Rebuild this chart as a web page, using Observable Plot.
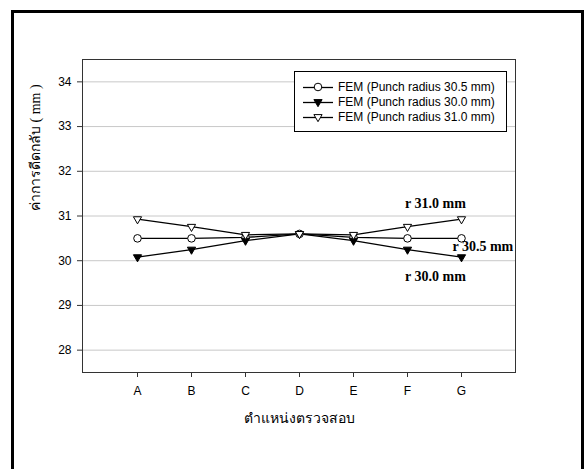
<!DOCTYPE html>
<html>
<head>
<meta charset="utf-8">
<script src="https://cdn.jsdelivr.net/npm/d3@7"></script>
<script src="https://cdn.jsdelivr.net/npm/@observablehq/plot@0.6"></script>
<style>
  html, body { margin: 0; padding: 0; background: #fff; width: 584px; height: 469px; overflow: hidden; }
  #outer { position: absolute; left: 11px; top: 10px; width: 573px; height: 520px; border: 3px solid #000; box-sizing: border-box; }
  #chart { position: absolute; left: 0; top: 0; }
  #legend { position: absolute; left: 294px; top: 71px; width: 213px; height: 61px; border: 1px solid #000; background: #fff; box-sizing: border-box; font-family: "Liberation Sans", Arial, sans-serif; font-size: 12px; color: #000; }
  .row { position: absolute; left: 0; height: 14px; display: flex; align-items: center; }
  .row svg { margin-left: 8px; }
  .row span { margin-left: 5px; white-space: nowrap; }
</style>
</head>
<body>
<div id="outer"></div>
<div id="chart"></div>
<div id="legend"></div>
<script>
// ---- data ----
const categories = ["A", "B", "C", "D", "E", "F", "G"];
const seriesNames = ["FEM (Punch radius 30.5 mm)", "FEM (Punch radius 30.0 mm)", "FEM (Punch radius 31.0 mm)"];
const r305 = [30.5, 30.5, 30.52, 30.6, 30.52, 30.5, 30.5];
const r300 = [30.08, 30.25, 30.45, 30.6, 30.45, 30.25, 30.08];
const r310 = [30.93, 30.76, 30.58, 30.6, 30.58, 30.76, 30.93];
const yTicks = [28, 29, 30, 31, 32, 33, 34];
const yDomain = [27.5, 34.5];
const xLabel = "ตำแหน่งตรวจสอบ";
const yLabel = "ค่าการดีดกลับ ( mm )";
const annotations = ["r 30.5 mm", "r 30.0 mm", "r 31.0 mm"];

// ---- build table ----
const seriesValues = [r305, r300, r310];
const rows = [];
seriesNames.forEach((s, i) => categories.forEach((c, j) => rows.push({series: s, pos: c, value: seriesValues[i][j]})));
const bySeries = (i) => rows.filter(d => d.series === seriesNames[i]);
const lastPoint = (i) => ({pos: categories[categories.length - 1], value: seriesValues[i][categories.length - 1], text: annotations[i]});

const triDown = {
  draw(ctx, size) {
    const s = 8.2, h = s * Math.sqrt(3) / 2;
    ctx.moveTo(0, 2 * h / 3);
    ctx.lineTo(-s / 2, -h / 3);
    ctx.lineTo(s / 2, -h / 3);
    ctx.closePath();
  }
};

const annFont = {fontFamily: "Liberation Serif, Times New Roman, serif", fontWeight: "bold", fontSize: 14, fill: "#000"};

const chart = Plot.plot({
  width: 584, height: 469,
  marginLeft: 82, marginRight: 69, marginTop: 59, marginBottom: 97,
  style: {fontFamily: "Liberation Sans, Arial, sans-serif", fontSize: "12px", background: "transparent", overflow: "visible", color: "#000"},
  x: {type: "point", domain: categories, padding: 1, label: null},
  y: {domain: yDomain, label: null},
  marks: [
    Plot.gridY(yTicks, {stroke: "#c8c8c8", strokeOpacity: 1}),
    Plot.frame({stroke: "#333"}),
    Plot.axisY(yTicks, {tickSize: 5, tickPadding: 6, label: null, stroke: "#333"}),
    Plot.axisX(categories, {tickSize: 5, tickPadding: 9, label: null, stroke: "#333"}),
    Plot.line(rows, {x: "pos", y: "value", z: "series", stroke: "#000", strokeWidth: 1.3}),
    Plot.dot(bySeries(0), {x: "pos", y: "value", r: 3.8, fill: "#fff", stroke: "#000", strokeWidth: 1}),
    Plot.dot(bySeries(1), {x: "pos", y: "value", symbol: triDown, fill: "#000", stroke: "#000", strokeWidth: 1}),
    Plot.dot(bySeries(2), {x: "pos", y: "value", symbol: triDown, fill: "#fff", stroke: "#000", strokeWidth: 1}),
    Plot.text([lastPoint(2)], {x: "pos", y: "value", text: "text", dx: -26, dy: -16, ...annFont}),
    Plot.text([lastPoint(0)], {x: "pos", y: "value", text: "text", dx: -9, dy: 8, textAnchor: "start", ...annFont}),
    Plot.text([lastPoint(1)], {x: "pos", y: "value", text: "text", dx: -26, dy: 19, ...annFont}),
    Plot.text([xLabel], {frameAnchor: "bottom", text: d => d, dy: 50, fontFamily: "Liberation Serif, serif", fontSize: 14, fill: "#000"}),
    Plot.text([yLabel], {frameAnchor: "left", text: d => d, rotate: -90, dx: -47, dy: -5, fontFamily: "Liberation Serif, serif", fontSize: 14, fill: "#000"})
  ]
});
document.getElementById("chart").appendChild(chart);

// ---- legend ----
const legend = document.getElementById("legend");
const legendTops = [8, 23, 38];
const markerSvg = [
  '<circle cx="15" cy="5" r="3.8" fill="#fff" stroke="#000"/>',
  '<path d="M15,9.7L10.9,2.6L19.1,2.6Z" fill="#000" stroke="#000"/>',
  '<path d="M15,9.7L10.9,2.6L19.1,2.6Z" fill="#fff" stroke="#000"/>'
];
seriesNames.forEach((name, i) => {
  const row = document.createElement("div");
  row.className = "row";
  row.style.top = legendTops[i] + "px";
  row.innerHTML = `<svg width="30" height="11" viewBox="0 0 30 11"><line x1="0" x2="30" y1="5.5" y2="5.5" stroke="#000" stroke-width="1.3"/>${markerSvg[i]}</svg><span>${name}</span>`;
  legend.appendChild(row);
});
</script>
</body>
</html>
